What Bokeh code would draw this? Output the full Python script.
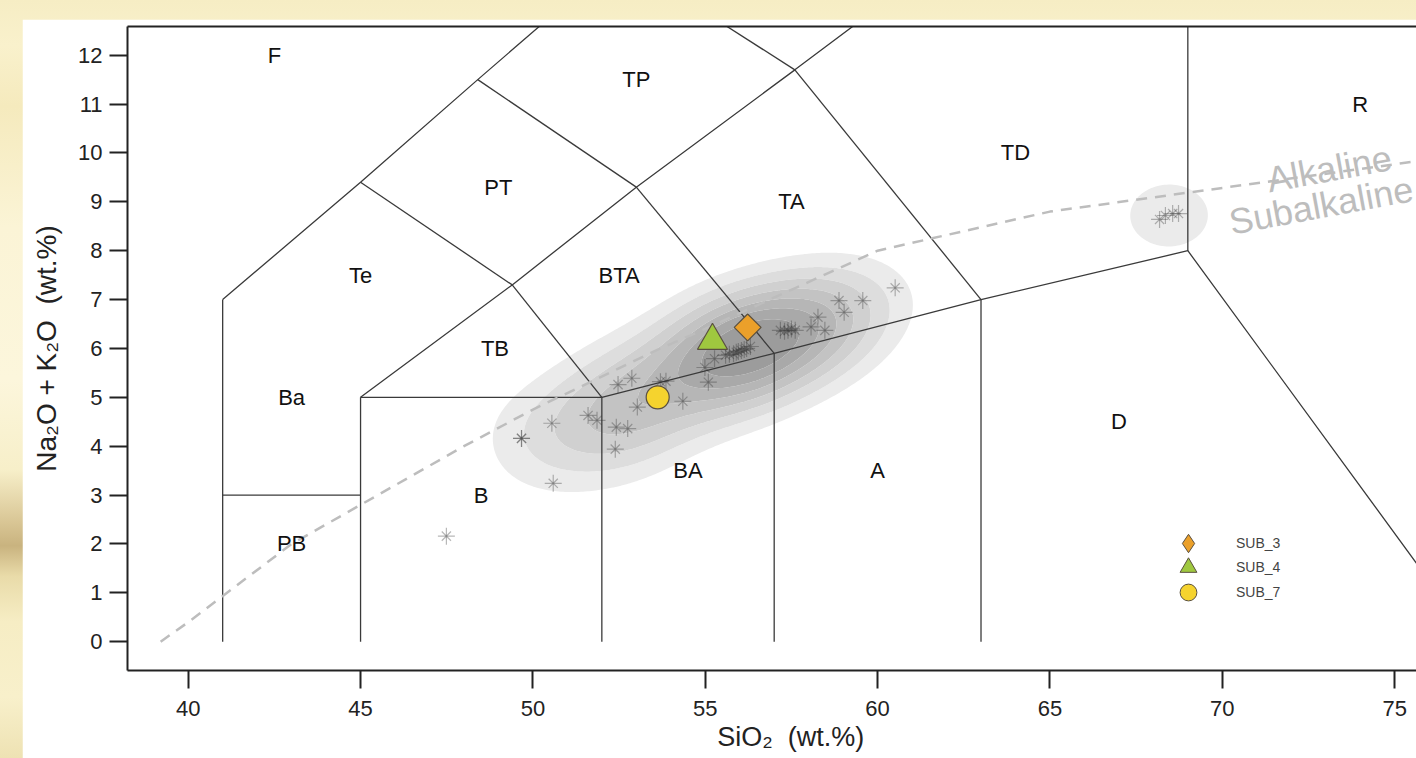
import numpy as np
from bokeh.plotting import figure
from bokeh.models import (Range1d, FixedTicker, LinearAxis, Legend, LegendItem,
                          Label, GlobalInlineStyleSheet)
from bokeh.core.properties import value
from bokeh.embed import file_html
from bokeh.resources import INLINE

# ---------------- data ----------------
# individual analyses (grey asterisks): SiO2 and Na2O+K2O, wt.%
star_sio2 = [47.49, 50.59, 49.67, 49.67, 50.55, 51.60, 51.86, 52.42, 52.75, 52.39,
             53.03, 52.47, 52.87, 53.70, 53.86, 54.35, 55.09, 54.99, 55.27, 55.59,
             55.82, 55.96, 56.13, 56.31, 55.70, 56.05, 56.20, 55.90, 57.18, 57.40,
             57.61, 57.30, 57.50, 58.07, 58.27, 58.47, 58.88, 59.03, 59.57, 60.51,
             68.18, 68.35, 68.56, 68.73]
star_alk = [2.16, 3.24, 4.16, 4.16, 4.47, 4.63, 4.53, 4.39, 4.36, 3.94,
            4.80, 5.26, 5.39, 5.32, 5.33, 4.92, 5.31, 5.61, 5.79, 5.86,
            5.89, 5.94, 5.98, 6.04, 5.88, 5.96, 6.00, 5.92, 6.37, 6.37,
            6.37, 6.35, 6.40, 6.44, 6.64, 6.37, 6.98, 6.74, 6.98, 7.24,
            8.64, 8.72, 8.76, 8.76]

# highlighted samples
sample_names = ["SUB_3", "SUB_4", "SUB_7"]
sample_sio2 = [56.23, 55.21, 53.62]
sample_alk = [6.43, 6.16, 5.00]
sample_markers = ["square", "triangle", "circle"]
sample_legend_markers = ["diamond", "triangle", "circle"]
sample_colors = ["#eba02a", "#9fc83f", "#f5d32e"]

# TAS field names and label positions
field_names = ["F", "TP", "PT", "TA", "TD", "R", "Te", "BTA", "TB", "Ba",
               "D", "BA", "A", "B", "PB"]
field_sio2 = [42.5, 53.0, 49.0, 57.5, 64.0, 74.0, 45.0, 52.5, 48.9, 43.0,
              67.0, 54.5, 60.0, 48.5, 43.0]
field_alk = [12.0, 11.5, 9.3, 9.0, 10.0, 11.0, 7.5, 7.5, 6.0, 5.0,
             4.5, 3.5, 3.5, 3.0, 2.0]

# TAS field boundaries (Le Bas et al. 1986)
boundary_sio2 = [[41, 41], [41, 45, 48.4, 52.5], [41, 45], [45, 45], [45, 52],
                 [52, 52], [52, 57, 63, 69, 77.3], [57, 57], [63, 63], [69, 69],
                 [45, 49.4, 53, 57.6, 61], [49.4, 52], [53, 57], [57.6, 63],
                 [48.4, 53], [52.5, 57.6], [45, 49.4]]
boundary_alk = [[0, 7], [7, 9.4, 11.5, 14], [3, 3], [0, 5], [5, 5],
                [0, 5], [5, 5.9, 7, 8, 0], [0, 5.9], [0, 7], [8, 13],
                [5, 7.3, 9.3, 11.7, 13.5], [7.3, 5], [9.3, 5.9], [11.7, 7],
                [11.5, 9.3], [14, 11.7], [9.4, 7.3]]

# Irvine & Baragar (1971) alkaline / subalkaline divide
ib_sio2 = [39.2, 40, 43, 45, 48, 50, 53.7, 55, 60, 65, 77.4]
ib_alk = [0, 0.4, 2, 2.8, 4, 4.75, 6, 6.4, 8, 8.8, 10]

x_ticks = [40, 45, 50, 55, 60, 65, 70, 75]
y_ticks = list(range(0, 13))

FONT = "Liberation Sans"
INK = "#222222"

# ---------------- figure ----------------
page_css = GlobalInlineStyleSheet(css="""
html, body { margin: 0 !important; padding: 0; overflow: hidden;
  background: linear-gradient(180deg, #f6edc4 0%, #f9f1cc 6%, #f5eabd 14%,
    #fbf4d6 30%, #fcf6dc 50%, #f7efc9 62%, #d8c594 69%, #c9b37f 72%,
    #e9dba9 76%, #f6edc4 82%, #f8f0cb 92%, #eee2b3 100%); }
""")

p = figure(width=1394, height=739,
           x_range=Range1d(38.239, 75.634), y_range=Range1d(-0.589, 12.587),
           output_backend="svg", toolbar_location=None,
           min_border_left=105, min_border_right=0, min_border_top=7,
           min_border_bottom=88,
           background_fill_color="white", border_fill_color="white",
           outline_line_color=None)
p.margin = (19, 0, 0, 22)
p.stylesheets = [page_css]
p.grid.visible = False

# density shading: Gaussian kernel density of the asterisk data
gx = np.linspace(38.0, 76.0, 600)
gy = np.linspace(-1.0, 13.0, 360)
GX, GY = np.meshgrid(gx, gy)
hx, hy = 1.5, 0.85
Z = np.zeros_like(GX)
for xi, yi in zip(star_sio2, star_alk):
    Z += np.exp(-0.5 * ((GX - xi) / hx) ** 2 - 0.5 * ((GY - yi) / hy) ** 2)
levels = [3.0, 4.8, 6.6, 8.4, 10.2, 12.0, 13.8, 500.0]
fills = ["#ebebeb", "#dddddd", "#d0d0d0", "#c3c3c3", "#b6b6b6", "#a9a9a9", "#9c9c9c"]
p.contour(gx, gy, Z, levels=levels, fill_color=fills, line_color=None)

# field boundaries
p.multi_line(xs=boundary_sio2, ys=boundary_alk, line_color="#3a3a3a", line_width=1.3)

# alkaline/subalkaline line
p.line(ib_sio2, ib_alk, line_color="#bdbdbd", line_width=2.5, line_dash="11 8")

# asterisks
p.scatter(star_sio2, star_alk, marker="cross", size=17, line_color="#333333",
          line_alpha=0.35, line_width=1.2)
p.scatter(star_sio2, star_alk, marker="x", size=13, line_color="#333333",
          line_alpha=0.35, line_width=1.2)

# field labels
p.text(x=field_sio2, y=field_alk, text=field_names, text_font=value(FONT),
       text_font_size="22px", text_align="center", text_baseline="middle",
       text_color="#111111")

# samples
sizes = [19, 30, 23]
angles = [np.pi / 4, 0, 0]
legend_y = [106, 82, 57]
glyph_box = [46, 42, 42]
for i in range(3):
    p.scatter([sample_sio2[i]], [sample_alk[i]], marker=sample_markers[i],
              size=sizes[i], angle=angles[i], fill_color=sample_colors[i],
              line_color="#5a5040", line_width=1.2)
    lr = p.scatter([sample_sio2[i]], [sample_alk[i]], marker=sample_legend_markers[i],
                   size=10, fill_color=sample_colors[i],
                   line_color="#5a5040", line_width=1.0, visible=False)
    g = glyph_box[i]
    d = (g - 42) // 2
    lg = Legend(items=[LegendItem(label=sample_names[i], renderers=[lr])],
                location=(1040 - d, legend_y[i] - d),
                glyph_width=g, glyph_height=g, padding=0, margin=0,
                label_standoff=27 - d, border_line_color=None,
                background_fill_alpha=0, label_text_font=FONT,
                label_text_font_size="14px", label_text_color="#444444",
                inactive_fill_alpha=0)
    p.add_layout(lg)

# Alkaline / Subalkaline labels
p.add_layout(Label(x=71.30, y=9.44, text="Alkaline", angle=0.183,
                   text_font=FONT, text_font_size="36px", text_color="#bdbdbd",
                   text_align="left", text_baseline="alphabetic"))
p.add_layout(Label(x=70.21, y=8.58, text="Subalkaline", angle=0.183,
                   text_font=FONT, text_font_size="36px", text_color="#bdbdbd",
                   text_align="left", text_baseline="alphabetic"))

# axes
for ax in (p.xaxis[0], p.yaxis[0]):
    ax.axis_line_width = 2
    ax.axis_line_color = INK
    ax.major_tick_line_width = 2
    ax.major_tick_line_color = INK
    ax.major_tick_out = 18
    ax.major_tick_in = 0
    ax.minor_tick_out = 0
    ax.minor_tick_in = 0
    ax.major_label_text_font = FONT
    ax.major_label_text_font_size = "22px"
    ax.major_label_text_color = INK
    ax.axis_label_text_font = FONT
    ax.axis_label_text_font_style = "normal"
    ax.axis_label_text_color = INK

p.xaxis.axis_label_text_font_size = "27px"
p.yaxis.axis_label_text_font_size = "28px"
p.xaxis.ticker = FixedTicker(ticks=x_ticks)
p.yaxis.ticker = FixedTicker(ticks=y_ticks)
p.xaxis.major_label_standoff = 12
p.yaxis.major_label_standoff = 7
p.xaxis.axis_label = "\u00a0\u00a0\u00a0\u00a0\u00a0SiO\u2082\u00a0\u00a0(wt.%)"
p.yaxis.axis_label = "Na\u2082O + K\u2082O\u00a0\u00a0(wt.%)"
p.xaxis.axis_label_standoff = 3
p.yaxis.axis_label_standoff = 13

top = LinearAxis(ticker=FixedTicker(ticks=[]), axis_line_width=2, axis_line_color=INK,
                 major_tick_out=0, major_tick_in=0, minor_tick_out=0, minor_tick_in=0,
                 major_label_text_font_size="0px", major_label_standoff=0)
p.add_layout(top, "above")

open("out.html", "w").write(file_html(p, INLINE))
